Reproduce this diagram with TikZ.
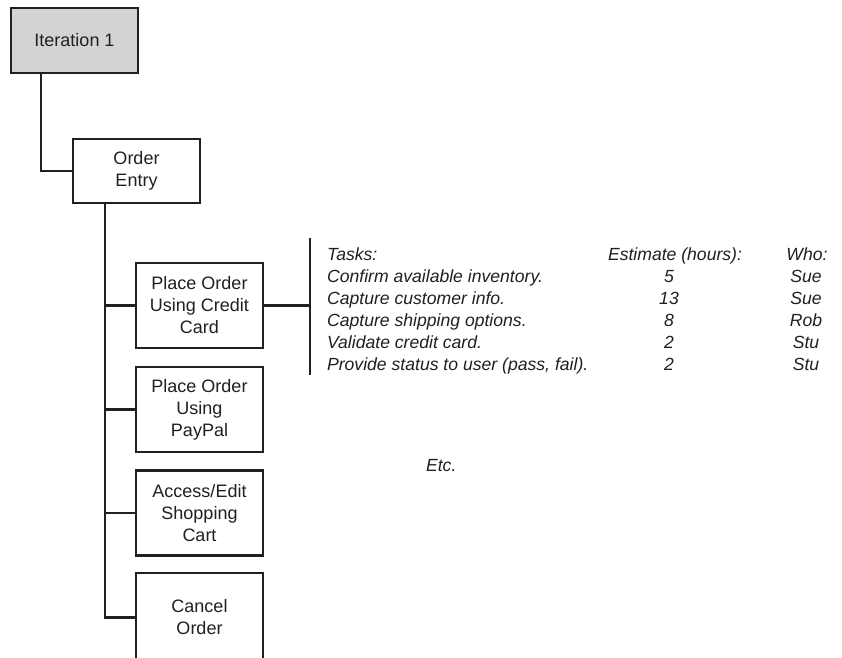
\documentclass[tikz,border=0pt]{standalone}
\usepackage{fontspec}
\setmainfont{Liberation Sans}
\definecolor{boxgray}{RGB}{211,211,213}
\definecolor{ink}{RGB}{35,31,32}
\begin{document}
\begin{tikzpicture}[x=1pt,y=-1pt,
  line width=2.2pt, draw=ink,
  box/.style={draw=ink, line width=2.2pt, rectangle, align=center, inner sep=0pt, outer sep=0pt,
    minimum width=127pt, font=\fontsize{18}{22}\selectfont, text=ink},
  cell/.style={font=\fontsize{17.6}{22}\selectfont\itshape, text=ink, inner sep=0pt},
  link/.style={draw=ink, line width=2.2pt}]
\clip (0,0) rectangle (842,657);
\fill[white] (0,0) rectangle (842,657);
% boxes
\node[box, fill=boxgray, minimum height=65pt] (it) at (74.5,40.5) {Iteration 1};
\node[box, minimum height=64pt] (oe) at (136.5,171) {Order\\Entry};
\node[box, minimum height=85pt] (cc) at (199.5,305.5) {Place Order\\Using Credit\\Card};
\node[box, minimum height=85pt] (pp) at (199.5,409.5) {Place Order\\Using\\PayPal};
\node[box, minimum height=85pt] (ac) at (199.5,513) {Access/Edit\\Shopping\\Cart};
\node[box, minimum height=89pt] (co) at (199.5,617.5) {Cancel\\Order};
% connectors
\coordinate (itc) at ([xshift=30pt]it.south west);
\draw[link] (itc) |- (oe.west);
\coordinate (sp) at ([xshift=32pt]oe.south west);
\draw[link] (sp) |- (co.west);
\draw[link] (cc.west) -- (cc.west -| sp);
\draw[link] (pp.west) -- (pp.west -| sp);
\draw[link] (ac.west) -- (ac.west -| sp);
% bracket
\coordinate (bt) at (310,238);
\coordinate (bb) at (310,375);
\draw[link] (bt) -- (bb);
\draw[link] (cc.east) -- (cc.east -| bt);
% table
\node[cell, anchor=base west] (t0) at (326,260) {Tasks:};
\node[cell, anchor=base west] (t1) at (326,282) {Confirm available inventory.};
\node[cell, anchor=base west] (t2) at (326,304) {Capture customer info.};
\node[cell, anchor=base west] (t3) at (326,326) {Capture shipping options.};
\node[cell, anchor=base west] (t4) at (326,348) {Validate credit card.};
\node[cell, anchor=base west] (t5) at (326,370) {Provide status to user (pass, fail).};
\node[cell, anchor=base] (e0) at (675,260) {Estimate (hours):};
\node[cell, anchor=base] (e1) at (669,282) {5};
\node[cell, anchor=base] (e2) at (669,304) {13};
\node[cell, anchor=base] (e3) at (669,326) {8};
\node[cell, anchor=base] (e4) at (669,348) {2};
\node[cell, anchor=base] (e5) at (669,370) {2};
\node[cell, anchor=base] (w0) at (807,260) {Who:};
\node[cell, anchor=base] (w1) at (806,282) {Sue};
\node[cell, anchor=base] (w2) at (806,304) {Sue};
\node[cell, anchor=base] (w3) at (806,326) {Rob};
\node[cell, anchor=base] (w4) at (806,348) {Stu};
\node[cell, anchor=base] (w5) at (806,370) {Stu};
\node[cell, anchor=base west] (etc) at (425,471) {Etc.};
\end{tikzpicture}
\end{document}
